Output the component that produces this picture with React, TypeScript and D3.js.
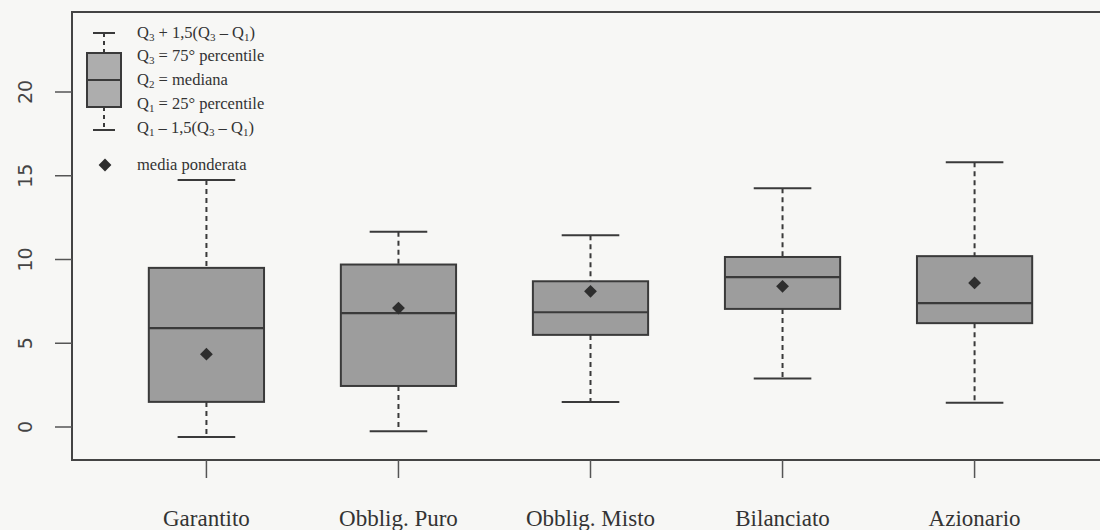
import React, { useEffect, useRef } from 'react';
import * as d3 from 'd3';

// categorie e statistiche
const categories = ['Garantito', 'Obblig. Puro', 'Obblig. Misto', 'Bilanciato', 'Azionario'];
const whiskerLow = [-0.6, -0.25, 1.5, 2.9, 1.45];
const q1 = [1.5, 2.45, 5.5, 7.05, 6.2];
const median = [5.9, 6.8, 6.85, 8.95, 7.4];
const q3 = [9.5, 9.7, 8.7, 10.15, 10.2];
const whiskerHigh = [14.75, 11.65, 11.45, 14.25, 15.8];
const weightedMean = [4.35, 7.1, 8.1, 8.4, 8.6];
const yTicks = [0, 5, 10, 15, 20];

type Seg = { t: string; sub?: boolean };
const legendLines: Seg[][] = [
    [{ t: 'Q' }, { t: '3', sub: true }, { t: ' + 1,5(Q' }, { t: '3', sub: true }, { t: ' – Q' }, { t: '1', sub: true }, { t: ')' }],
    [{ t: 'Q' }, { t: '3', sub: true }, { t: ' = 75° percentile' }],
    [{ t: 'Q' }, { t: '2', sub: true }, { t: ' = mediana' }],
    [{ t: 'Q' }, { t: '1', sub: true }, { t: ' = 25° percentile' }],
    [{ t: 'Q' }, { t: '1', sub: true }, { t: ' – 1,5(Q' }, { t: '3', sub: true }, { t: ' – Q' }, { t: '1', sub: true }, { t: ')' }],
];
const meanLabel = 'media ponderata';

const W = 1100;
const H = 530;
const frame = { left: 72, top: 12, right: 1109, bottom: 460 };
const ink = '#3a3a3a';
const serif = '"Liberation Serif", "Times New Roman", serif';

const App: React.FC = () => {
    const svgRef = useRef<SVGSVGElement>(null);

    useEffect(() => {
        if (!svgRef.current) return;
        const svg = d3.select(svgRef.current);
        svg.selectAll('*').remove();

        const x = d3.scalePoint<string>()
            .domain(categories)
            .range([frame.left, frame.right])
            .padding(0.7);
        const y = d3.scaleLinear().domain([0, 20]).range([427, 92]);
        const boxW = x.step() * 0.6;
        const capW = boxW / 2;
        const diamond = d3.symbol().type(d3.symbolSquare).size(82);

        svg.append('rect')
            .attr('width', W).attr('height', H)
            .attr('fill', '#f7f7f5');

        // boxplot
        const g = svg.append('g');
        const boxes = g.selectAll('.box')
            .data(categories)
            .enter()
            .append('g')
            .attr('class', 'box')
            .attr('transform', d => `translate(${x(d)},0)`);

        boxes.append('line')
            .attr('y1', (d, i) => y(whiskerHigh[i])).attr('y2', (d, i) => y(q3[i]))
            .attr('stroke', ink).attr('stroke-width', 2).attr('stroke-dasharray', '5,4');
        boxes.append('line')
            .attr('y1', (d, i) => y(q1[i])).attr('y2', (d, i) => y(whiskerLow[i]))
            .attr('stroke', ink).attr('stroke-width', 2).attr('stroke-dasharray', '5,4');
        boxes.append('line')
            .attr('x1', -capW / 2).attr('x2', capW / 2)
            .attr('y1', (d, i) => y(whiskerHigh[i])).attr('y2', (d, i) => y(whiskerHigh[i]))
            .attr('stroke', ink).attr('stroke-width', 2);
        boxes.append('line')
            .attr('x1', -capW / 2).attr('x2', capW / 2)
            .attr('y1', (d, i) => y(whiskerLow[i])).attr('y2', (d, i) => y(whiskerLow[i]))
            .attr('stroke', ink).attr('stroke-width', 2);
        boxes.append('rect')
            .attr('x', -boxW / 2).attr('width', boxW)
            .attr('y', (d, i) => y(q3[i]))
            .attr('height', (d, i) => y(q1[i]) - y(q3[i]))
            .attr('fill', '#9d9d9d').attr('stroke', ink).attr('stroke-width', 2);
        boxes.append('line')
            .attr('x1', -boxW / 2).attr('x2', boxW / 2)
            .attr('y1', (d, i) => y(median[i])).attr('y2', (d, i) => y(median[i]))
            .attr('stroke', ink).attr('stroke-width', 2.2);
        boxes.append('path')
            .attr('d', diamond)
            .attr('transform', (d, i) => `translate(0,${y(weightedMean[i])}) rotate(45)`)
            .attr('fill', '#2e2e2e');

        // cornice
        svg.append('rect')
            .attr('x', frame.left).attr('y', frame.top)
            .attr('width', frame.right - frame.left).attr('height', frame.bottom - frame.top)
            .attr('fill', 'none').attr('stroke', '#444').attr('stroke-width', 2);

        // asse y
        const yAxis = svg.append('g');
        yAxis.selectAll('line')
            .data(yTicks).enter().append('line')
            .attr('x1', 55).attr('x2', frame.left)
            .attr('y1', d => y(d)).attr('y2', d => y(d))
            .attr('stroke', '#555').attr('stroke-width', 1.5);
        yAxis.selectAll('text')
            .data(yTicks).enter().append('text')
            .attr('transform', d => `translate(32,${y(d)}) rotate(-90)`)
            .attr('text-anchor', 'middle')
            .attr('font-family', '"DejaVu Sans", sans-serif')
            .attr('font-size', 19)
            .attr('fill', '#444')
            .text(d => d);

        // asse x
        const xAxis = svg.append('g');
        xAxis.selectAll('line')
            .data(categories).enter().append('line')
            .attr('x1', d => x(d)!).attr('x2', d => x(d)!)
            .attr('y1', frame.bottom).attr('y2', 478)
            .attr('stroke', '#555').attr('stroke-width', 1.5);
        xAxis.selectAll('text')
            .data(categories).enter().append('text')
            .attr('x', d => x(d)!)
            .attr('y', 526)
            .attr('text-anchor', 'middle')
            .attr('font-family', serif)
            .attr('font-size', 23)
            .attr('fill', '#333')
            .text(d => d);

        // legenda
        const leg = svg.append('g');
        const lx = 104;
        const lBox = { top: 53, mid: 80, bottom: 107, capTop: 33, capBottom: 130, w: 34, capW: 22 };
        leg.append('line').attr('x1', lx).attr('x2', lx).attr('y1', lBox.capTop).attr('y2', lBox.top)
            .attr('stroke', ink).attr('stroke-width', 2).attr('stroke-dasharray', '4,4');
        leg.append('line').attr('x1', lx).attr('x2', lx).attr('y1', lBox.bottom).attr('y2', lBox.capBottom)
            .attr('stroke', ink).attr('stroke-width', 2).attr('stroke-dasharray', '4,4');
        [lBox.capTop, lBox.capBottom].forEach(cy => {
            leg.append('line').attr('x1', lx - lBox.capW / 2).attr('x2', lx + lBox.capW / 2)
                .attr('y1', cy).attr('y2', cy).attr('stroke', ink).attr('stroke-width', 2);
        });
        leg.append('rect')
            .attr('x', lx - lBox.w / 2).attr('y', lBox.top)
            .attr('width', lBox.w).attr('height', lBox.bottom - lBox.top)
            .attr('fill', '#adadad').attr('stroke', ink).attr('stroke-width', 2);
        leg.append('line').attr('x1', lx - lBox.w / 2).attr('x2', lx + lBox.w / 2)
            .attr('y1', lBox.mid).attr('y2', lBox.mid).attr('stroke', ink).attr('stroke-width', 2);
        leg.append('path')
            .attr('d', diamond)
            .attr('transform', `translate(${lx + 1},165) rotate(45)`)
            .attr('fill', '#2e2e2e');

        const rowY = [lBox.capTop, 56, lBox.mid, 104, 128];
        legendLines.forEach((segs, r) => {
            const t = leg.append('text')
                .attr('x', 137).attr('y', rowY[r] + 5)
                .attr('font-family', serif).attr('font-size', 16.5).attr('fill', '#333');
            segs.forEach((s, k) => {
                const ts = t.append('tspan').text(s.t);
                const prev = segs[k - 1];
                if (s.sub) ts.attr('font-size', 11).attr('dy', 3);
                else if (prev && prev.sub) ts.attr('dy', -3);
            });
        });
        leg.append('text')
            .attr('x', 137).attr('y', 170)
            .attr('font-family', serif).attr('font-size', 16.5).attr('fill', '#333')
            .text(meanLabel);
    }, []);

    return (
        <svg
            ref={svgRef}
            width={W}
            height={H}
            style={{ position: 'absolute', left: 0, top: 0, display: 'block' }}
        />
    );
};

export default App;
